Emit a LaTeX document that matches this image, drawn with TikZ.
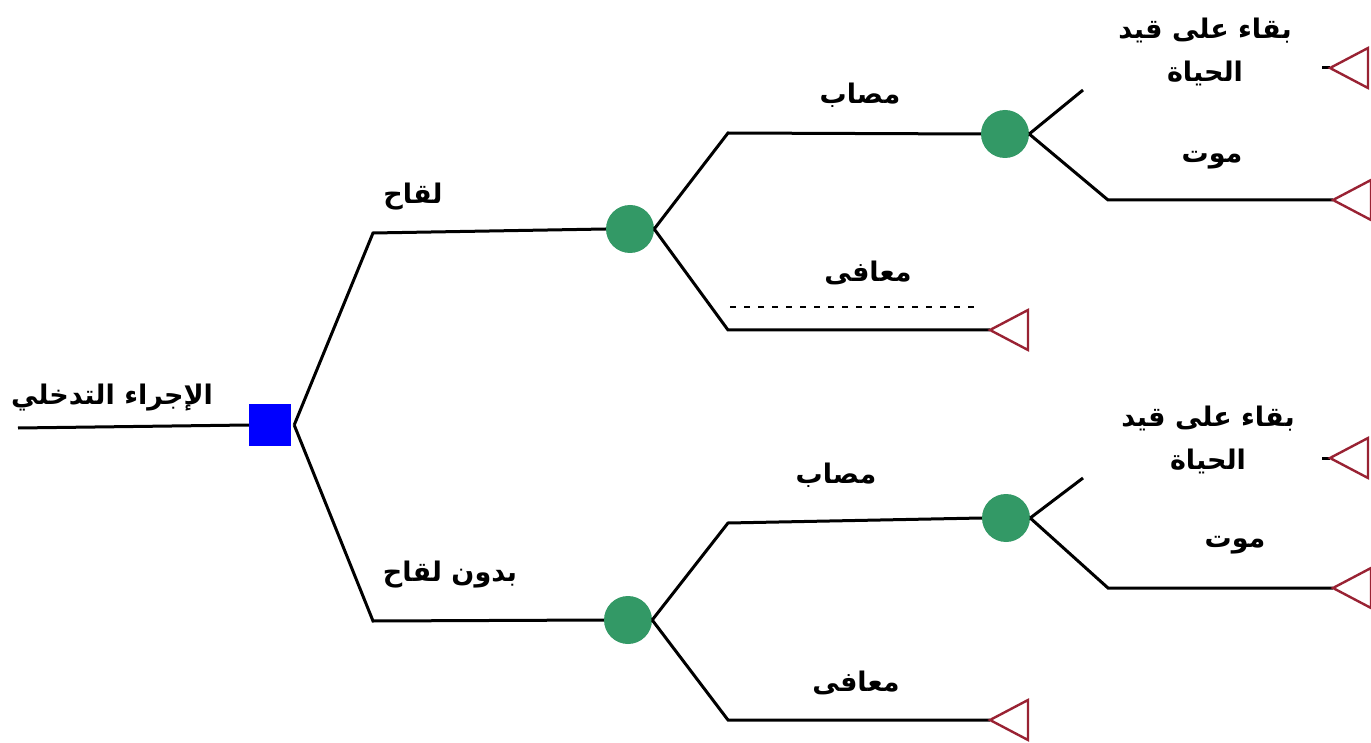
\documentclass[tikz,border=0pt]{standalone}
\usepackage{fontspec}
\TeXXeTstate=1
\newfontfamily\arabicfont[Script=Arabic]{DejaVu Sans}
\definecolor{nodegreen}{HTML}{339966}
\definecolor{termred}{HTML}{992233}
\begin{document}
\begin{tikzpicture}[x=1pt,y=-1pt,
  edge/.style={line width=3pt,black},
  chance/.style={circle,fill=nodegreen,minimum size=48pt,inner sep=0pt},
  decision/.style={rectangle,fill=blue,minimum size=42pt,inner sep=0pt},
  lbl/.style={font=\arabicfont\bfseries\fontsize{27}{43}\selectfont,align=center,inner sep=0pt},
  term/.style={draw=termred,line width=2.4pt}]
\useasboundingbox (0,0) rectangle (1371,743);
\fill[white] (0,0) rectangle (1371,743);
% decision node
\node[decision] (d) at (270,425) {};
\coordinate (root) at (18,428);
\draw[edge] (root) -- (d.west);
% chance nodes
\node[chance] (c1) at (630,229) {};
\node[chance] (c2) at (1005,134) {};
\node[chance] (c3) at (628,620) {};
\node[chance] (c4) at (1006,518) {};
% terminal coordinates (tips)
\coordinate (t1) at (1330,68);
\coordinate (t2) at (1333,200);
\coordinate (t3) at (990,330);
\coordinate (t4) at (1330,458);
\coordinate (t5) at (1333,588);
\coordinate (t6) at (990,720);
% branches from decision
\draw[edge] (d.east) ++(3,0) coordinate (dE) -- (373,233) -- (c1.west);
\draw[edge] (dE) -- (373,621) -- (c3.west);
% branches from c1
\draw[edge] (c1.east) -- (728,133) -- (c2.west);
\draw[edge] (c1.east) -- (728,330) -- (t3);
\draw[line width=1.4pt,dash pattern=on 6pt off 8pt] (730,307) -- (980,307);
% branches from c2
\coordinate (u1) at (1083,90);
\draw[edge] (c2.east) -- (u1);
\draw[edge] (1322,68) -- (t1);
\draw[edge] (c2.east) -- (1108,200) -- (t2);
% branches from c3
\draw[edge] (c3.east) -- (728,523) -- (c4.west);
\draw[edge] (c3.east) -- (728,720) -- (t6);
% branches from c4
\coordinate (u2) at (1083,478);
\draw[edge] (c4.east) -- (u2);
\draw[edge] (1322,458) -- (t4);
\draw[edge] (c4.east) -- (1108,588) -- (t5);
% terminal triangles
\foreach \t in {t1,t2,t3,t4,t5,t6}{
  \draw[term] (\t) -- ++(38,-20) -- ++(0,40) -- cycle;
}
% labels
\node[lbl] (l0) at (112,398) {\beginR الإجراء التدخلي\endR};
\node[lbl] (l1) at (413,197) {\beginR لقاح\endR};
\node[lbl] (l2) at (860,95) {\beginR مصاب\endR};
\node[lbl] (l3) at (868,273) {\beginR معافى\endR};
\node[lbl] (l4) at (1205,52) {\beginR بقاء على قيد\endR\\\beginR الحياة\endR};
\node[lbl] (l5) at (1212,160) {\beginR موت\endR};
\node[lbl] (l6) at (450,575) {\beginR بدون لقاح\endR};
\node[lbl] (l7) at (836,475) {\beginR مصاب\endR};
\node[lbl] (l8) at (856,683) {\beginR معافى\endR};
\node[lbl] (l9) at (1208,440) {\beginR بقاء على قيد\endR\\\beginR الحياة\endR};
\node[lbl] (l10) at (1235,545) {\beginR موت\endR};
\end{tikzpicture}
\end{document}
